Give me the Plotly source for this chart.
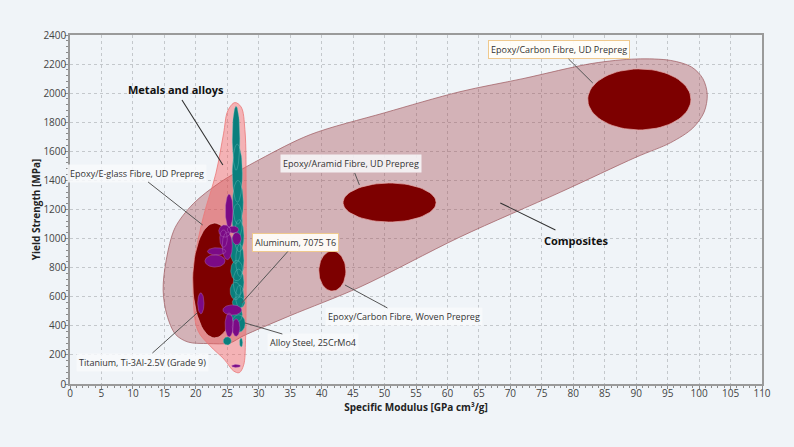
import numpy as np
import plotly.graph_objects as go

# ---------------- data ----------------
x_ticks = list(range(0, 111, 5))
y_ticks = list(range(0, 2401, 200))

# envelope outlines (Specific modulus, Yield strength)
comp_env_x = [46.1, 62.0, 78.0, 90.0, 95.5, 99.0, 100.8, 101.3, 100.6, 98.8, 95.5, 90.0, 83.1, 72.0, 62.0,
              50.0, 38.2, 30.2, 23.8, 19.6, 16.7, 15.3, 14.8, 15.4, 16.8, 18.8, 22.0, 25.4, 27.5, 35.0, 46.1]
comp_env_y = [667, 1011, 1320, 1560, 1660, 1760, 1870, 1990, 2100, 2180, 2225, 2235, 2205, 2100, 2010,
              1865, 1715, 1545, 1385, 1240, 1075, 853, 646, 475, 340, 288, 278, 282, 330, 470, 667]

metal_env_x = [28.0, 28.0, 27.9, 27.6, 26.9, 26.0, 24.5, 22.2, 20.3, 19.6, 19.8, 21.2, 23.2, 24.4,
               25.1, 26.2, 27.2, 27.8, 28.0]
metal_env_y = [1300, 700, 300, 130, 78, 90, 170, 265, 370, 600, 850, 1150, 1450, 1720,
               1880, 1935, 1905, 1750, 1300]

# composite materials: centre and half-extents
comp_names = ["Epoxy/Carbon Fibre, UD Prepreg", "Epoxy/Aramid Fibre, UD Prepreg",
              "Epoxy/Carbon Fibre, Woven Prepreg", "Epoxy/E-glass Fibre, UD Prepreg"]
comp_x = [90.5, 50.8, 41.7, 23.0]
comp_y = [1957, 1248, 777, 712]
comp_rx = [8.2, 7.4, 2.15, 3.5]
comp_ry = [210, 134, 138, 395]

# metals (teal group)
teal_x = [26.4, 26.6, 26.7, 26.6, 26.9, 26.3, 27.0, 26.5, 26.8, 26.3, 27.0, 26.8, 26.5, 26.8, 25.0, 27.2]
teal_y = [1690, 1450, 1250, 1120, 1020, 930, 850, 780, 700, 640, 600, 560, 480, 416, 296, 285]
teal_rx = [0.6, 0.8, 0.85, 0.8, 0.75, 0.85, 0.65, 0.95, 0.85, 0.85, 0.65, 1.0, 0.9, 1.05, 0.65, 0.25]
teal_ry = [220, 200, 150, 120, 110, 100, 110, 70, 90, 60, 80, 40, 55, 60, 28, 31]

# metals (purple group)
purple_x = [25.3, 24.6, 25.9, 25.0, 26.5, 23.3, 23.05, 24.4, 25.8, 25.3, 26.4, 20.8, 26.4]
purple_y = [1190, 1052, 1062, 950, 1000, 912, 846, 1000, 509, 406, 388, 555, 124]
purple_rx = [0.6, 0.95, 0.9, 0.8, 0.7, 1.45, 1.6, 0.6, 1.5, 0.65, 0.6, 0.5, 0.7]
purple_ry = [115, 42, 24, 95, 42, 25, 42, 60, 35, 82, 60, 72, 10]

# annotations: text, text position, arrow target
ann_text = ["Epoxy/Carbon Fibre, UD Prepreg", "Epoxy/Aramid Fibre, UD Prepreg",
            "Epoxy/Carbon Fibre, Woven Prepreg", "Aluminum, 7075 T6", "Alloy Steel, 25CrMo4",
            "Titanium, Ti-3Al-2.5V (Grade 9)", "Epoxy/E-glass Fibre, UD Prepreg"]
ann_tx = [77.8, 44.7, 53.1, 35.9, 38.6, 11.5, 10.6]
ann_ty = [2297, 1513, 461, 973, 282, 151, 1451]
ann_hx = [83.1, 46.0, 43.7, 27.3, 27.8, 20.2, 21.1]
ann_hy = [2070, 1369, 681, 557, 420, 488, 1093]
ann_boxed = [True, False, False, True, False, False, False]

group_text = ["Metals and alloys", "Composites"]
group_tx = [16.8, 80.4]
group_ty = [2022, 990]
group_hx = [24.3, 68.4]
group_hy = [1506, 1245]

# ---------------- figure ----------------
def ellipse_path(cx, cy, rx, ry, n=72):
    xs, ys = [], []
    t = np.linspace(0, 2 * np.pi, n)
    for a, b, c, d in zip(cx, cy, rx, ry):
        xs += list(a + c * np.cos(t)) + [None]
        ys += list(b + d * np.sin(t)) + [None]
    return xs, ys

fig = go.Figure()

fig.add_trace(go.Scatter(x=comp_env_x, y=comp_env_y, mode="lines", line_shape="spline",
                         line=dict(color="rgba(160,95,100,0.75)", width=1, smoothing=0.9),
                         fill="toself", fillcolor="rgba(160,60,70,0.36)", hoverinfo="skip"))
fig.add_trace(go.Scatter(x=metal_env_x, y=metal_env_y, mode="lines", line_shape="spline",
                         line=dict(color="rgba(235,120,120,0.8)", width=1, smoothing=1.0),
                         fill="toself", fillcolor="rgba(250,80,80,0.40)", hoverinfo="skip"))

ex, ey = ellipse_path(comp_x, comp_y, comp_rx, comp_ry)
fig.add_trace(go.Scatter(x=ex, y=ey, mode="lines", line=dict(color="rgba(230,170,170,0.9)", width=0.8),
                         fill="toself", fillcolor="#7d0000", hoverinfo="skip"))

px_, py_ = ellipse_path(purple_x, purple_y, purple_rx, purple_ry)
tx_, ty_ = ellipse_path(teal_x, teal_y, teal_rx, teal_ry)
fig.add_trace(go.Scatter(x=tx_, y=ty_, mode="lines", line=dict(color="rgba(120,200,195,0.6)", width=0.6),
                         fill="toself", fillcolor="#0a7f7d", hoverinfo="skip"))
fig.add_trace(go.Scatter(x=px_, y=py_, mode="lines", line=dict(color="rgba(180,110,190,0.7)", width=0.6),
                         fill="toself", fillcolor="#7b0a86", hoverinfo="skip"))

for t, ax_, ay_, hx, hy, boxed in zip(ann_text, ann_tx, ann_ty, ann_hx, ann_hy, ann_boxed):
    fig.add_annotation(x=hx, y=hy, ax=ax_, ay=ay_, axref="x", ayref="y", xref="x", yref="y",
                       text=t, showarrow=True, arrowhead=0, arrowwidth=1, arrowcolor="#555555",
                       font=dict(family="Open Sans", size=9, color="#333333"),
                       bgcolor="rgba(255,253,248,0.95)" if boxed else "rgba(248,249,251,0.85)",
                       bordercolor="#efc98e" if boxed else "rgba(0,0,0,0)",
                       borderwidth=1, borderpad=2)

for t, ax_, ay_, hx, hy in zip(group_text, group_tx, group_ty, group_hx, group_hy):
    fig.add_annotation(x=hx, y=hy, ax=ax_, ay=ay_, axref="x", ayref="y", xref="x", yref="y",
                       text="<b>" + t + "</b>", showarrow=True, arrowhead=0, arrowwidth=1.1,
                       arrowcolor="#333333", font=dict(family="Open Sans", size=11, color="#111111"),
                       borderpad=2)

axis_common = dict(showline=True, linecolor="#9a9a9a", linewidth=1.5, mirror=True,
                   showgrid=True, gridcolor="#c4c8cc", griddash="dot", gridwidth=1,
                   ticks="outside", ticklen=3, tickcolor="#8a8a8a", zeroline=False,
                   tickfont=dict(family="Open Sans", size=10, color="#444444"))

fig.update_xaxes(range=[0, 110], tickvals=x_ticks, ticktext=[str(v) for v in x_ticks],
                 minor=dict(ticks="outside", ticklen=2, dtick=1, tickcolor="#8a8a8a", showgrid=False),
                 ticklabelstandoff=-4,
                 title=dict(text="<b>Specific Modulus [GPa cm³/g]</b>", standoff=0,
                            font=dict(family="Open Sans", size=10, color="#222222")),
                 **axis_common)
fig.update_yaxes(range=[0, 2400], tickvals=y_ticks, ticktext=[str(v) for v in y_ticks],
                 minor=dict(ticks="outside", ticklen=2, dtick=40, tickcolor="#8a8a8a", showgrid=False),
                 ticklabelstandoff=-3,
                 title=dict(text="<b>Yield Strength [MPa]</b>", standoff=0,
                            font=dict(family="Open Sans", size=10, color="#222222")),
                 **axis_common)

fig.update_layout(width=794, height=447, showlegend=False,
                  margin=dict(l=70, r=32, t=35, b=63),
                  paper_bgcolor="#f0f4f8", plot_bgcolor="#f0f4f8",
                  font=dict(family="Open Sans"))

fig.write_html("out.html")
